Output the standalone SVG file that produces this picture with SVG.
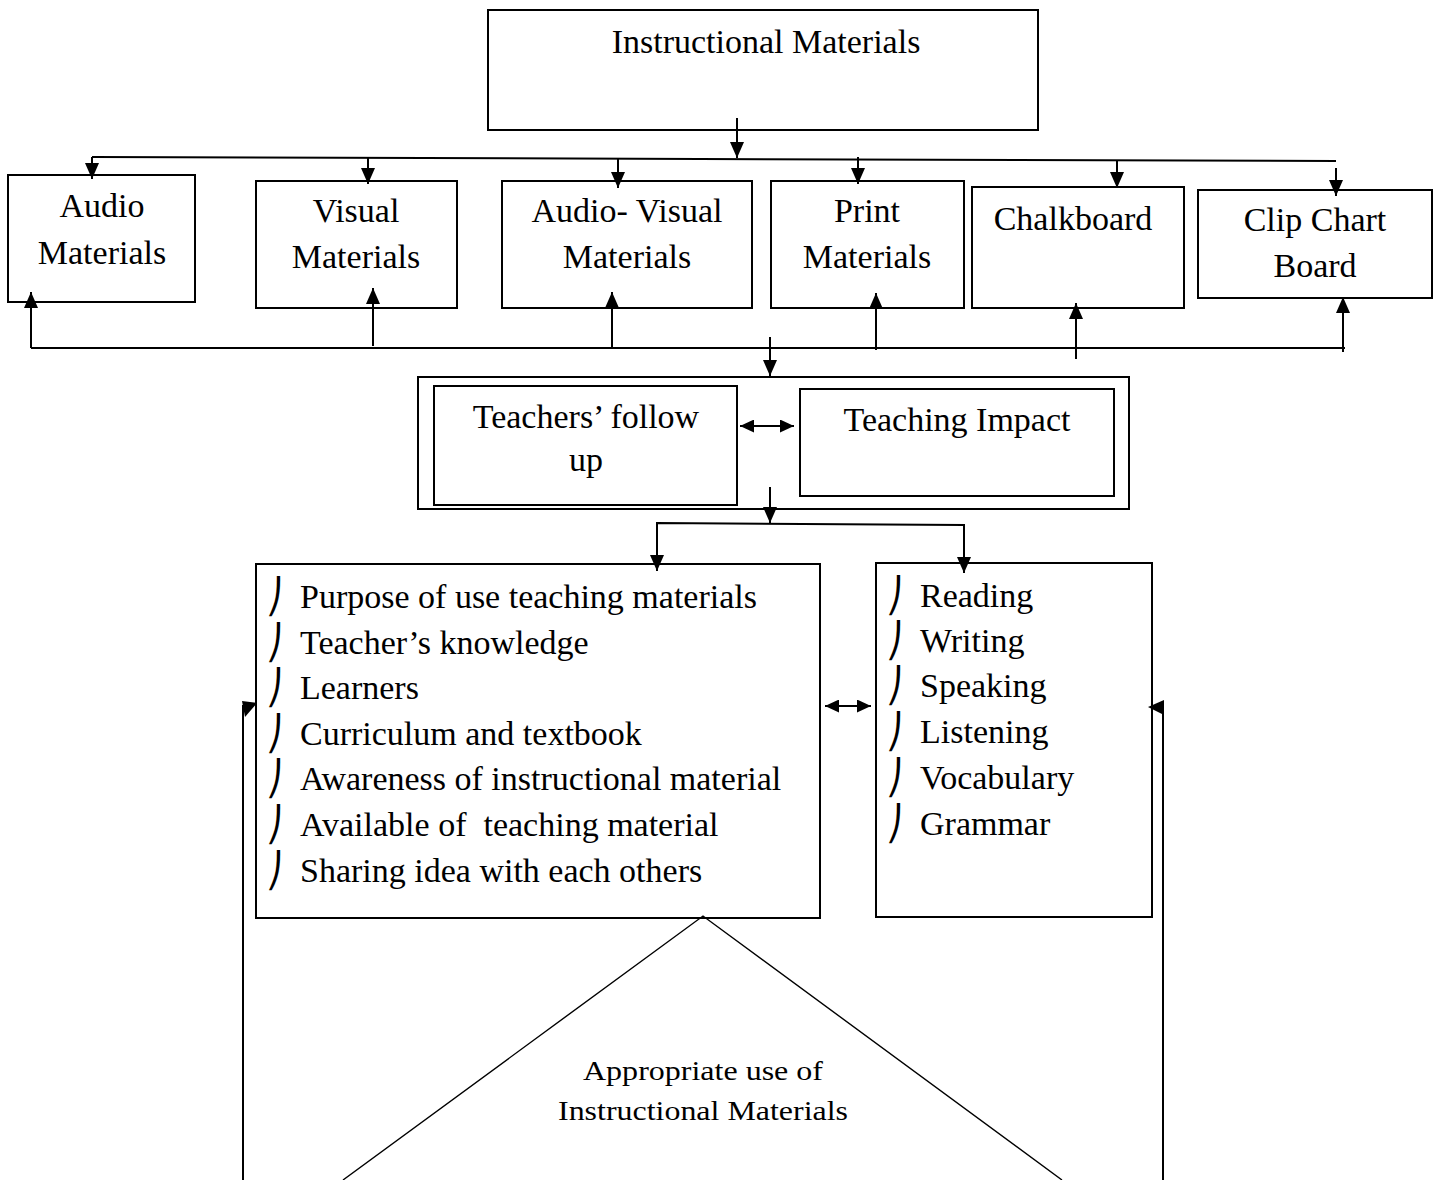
<svg xmlns="http://www.w3.org/2000/svg" width="1439" height="1180" viewBox="0 0 1439 1180">
<defs>
<style>
.box{fill:#fff;stroke:#000;stroke-width:2}
.ln{fill:none;stroke:#000;stroke-width:2}
.t{font-family:"Liberation Serif","Times New Roman",serif;font-size:34px;fill:#000}
.c{text-anchor:middle}
.b{font-family:"DejaVu Sans",sans-serif;font-size:34px;font-weight:200;fill:#000}
.tri{fill:none;stroke:#000;stroke-width:1.4}
</style>
<marker id="ah" markerUnits="userSpaceOnUse" markerWidth="16" markerHeight="14" viewBox="0 0 16 14" refX="16" refY="7" orient="auto">
<path d="M0,0 L16,7 L0,14 Z" fill="#000"/>
</marker>
<marker id="ah2" markerUnits="userSpaceOnUse" markerWidth="14" markerHeight="13" viewBox="0 0 14 13" refX="14" refY="6.5" orient="auto-start-reverse">
<path d="M0,0 L14,6.5 L0,13 Z" fill="#000"/>
</marker>
</defs>
<rect width="1439" height="1180" fill="#fff"/>

<g id="instructional-materials">
<rect class="box" x="488" y="10" width="550" height="120"/>
<text class="t c" x="766" y="53">Instructional Materials</text>
</g>

<g id="audio-materials">
<rect class="box" x="8" y="175" width="187" height="127"/>
<text class="t c" x="102" y="217">Audio</text>
<text class="t c" x="102" y="264">Materials</text>
</g>
<g id="visual-materials">
<rect class="box" x="256" y="181" width="201" height="127"/>
<text class="t c" x="356" y="222">Visual</text>
<text class="t c" x="356" y="268">Materials</text>
</g>
<g id="audio-visual-materials">
<rect class="box" x="502" y="181" width="250" height="127"/>
<text class="t c" x="627" y="222">Audio- Visual</text>
<text class="t c" x="627" y="268">Materials</text>
</g>
<g id="print-materials">
<rect class="box" x="771" y="181" width="193" height="127"/>
<text class="t c" x="867" y="222">Print</text>
<text class="t c" x="867" y="268">Materials</text>
</g>
<g id="chalkboard">
<rect class="box" x="972" y="187" width="212" height="121"/>
<text class="t c" x="1073" y="230">Chalkboard</text>
</g>
<g id="clip-chart-board">
<rect class="box" x="1198" y="190" width="234" height="108"/>
<text class="t c" x="1315" y="231">Clip Chart</text>
<text class="t c" x="1315" y="277">Board</text>
</g>

<g id="follow-up-impact">
<rect class="box" x="418" y="377" width="711" height="132"/>
<g id="teachers-follow-up">
<rect class="box" x="434" y="386" width="303" height="119"/>
<text class="t c" x="586" y="428">Teachers’ follow</text>
<text class="t c" x="586" y="471">up</text>
</g>
<g id="teaching-impact">
<rect class="box" x="800" y="389" width="314" height="107"/>
<text class="t c" x="957" y="431">Teaching Impact</text>
</g>
</g>

<g id="factors-list">
<rect class="box" x="256" y="564" width="564" height="354"/>
<text class="b" x="266" y="608">⎠</text>
<text class="b" x="266" y="654">⎠</text>
<text class="b" x="266" y="699">⎠</text>
<text class="b" x="266" y="745">⎠</text>
<text class="b" x="266" y="790">⎠</text>
<text class="b" x="266" y="836">⎠</text>
<text class="b" x="266" y="882">⎠</text>
<text class="t" x="300" y="608">Purpose of use teaching materials</text>
<text class="t" x="300" y="654">Teacher’s knowledge</text>
<text class="t" x="300" y="699">Learners</text>
<text class="t" x="300" y="745">Curriculum and textbook</text>
<text class="t" x="300" y="790">Awareness of instructional material</text>
<text class="t" x="300" y="836" xml:space="preserve">Available of  teaching material</text>
<text class="t" x="300" y="882">Sharing idea with each others</text>
</g>

<g id="skills-list">
<rect class="box" x="876" y="563" width="276" height="354"/>
<text class="b" x="886" y="607">⎠</text>
<text class="b" x="886" y="652">⎠</text>
<text class="b" x="886" y="697">⎠</text>
<text class="b" x="886" y="743">⎠</text>
<text class="b" x="886" y="789">⎠</text>
<text class="b" x="886" y="835">⎠</text>
<text class="t" x="920" y="607">Reading</text>
<text class="t" x="920" y="652">Writing</text>
<text class="t" x="920" y="697">Speaking</text>
<text class="t" x="920" y="743">Listening</text>
<text class="t" x="920" y="789">Vocabulary</text>
<text class="t" x="920" y="835">Grammar</text>
</g>

<g id="appropriate-use">
<polyline class="tri" points="343,1180 703,916 1062,1180"/>
<text class="t c" x="703" y="1080" style="font-size:27px" textLength="240" lengthAdjust="spacingAndGlyphs">Appropriate use of</text>
<text class="t c" x="703" y="1120" style="font-size:27px" textLength="290" lengthAdjust="spacingAndGlyphs">Instructional Materials</text>
</g>

<g id="connectors">
<line class="ln" x1="737" y1="118" x2="737" y2="158" marker-end="url(#ah)"/>
<line class="ln" x1="92" y1="157" x2="1336" y2="161"/>
<line class="ln" x1="92" y1="157" x2="92" y2="179" marker-end="url(#ah)"/>
<line class="ln" x1="368" y1="158" x2="368" y2="184" marker-end="url(#ah)"/>
<line class="ln" x1="618" y1="158" x2="618" y2="188" marker-end="url(#ah)"/>
<line class="ln" x1="858" y1="157" x2="858" y2="184" marker-end="url(#ah)"/>
<line class="ln" x1="1117" y1="160" x2="1117" y2="188" marker-end="url(#ah)"/>
<line class="ln" x1="1336" y1="168" x2="1336" y2="196" marker-end="url(#ah)"/>

<line class="ln" x1="31" y1="348" x2="1345" y2="348"/>
<line class="ln" x1="31" y1="348" x2="31" y2="292" marker-end="url(#ah)"/>
<line class="ln" x1="373" y1="346" x2="373" y2="288" marker-end="url(#ah)"/>
<line class="ln" x1="612" y1="348" x2="612" y2="292" marker-end="url(#ah)"/>
<line class="ln" x1="876" y1="350" x2="876" y2="293" marker-end="url(#ah)"/>
<line class="ln" x1="1076" y1="359" x2="1076" y2="303" marker-end="url(#ah)"/>
<line class="ln" x1="1343" y1="352" x2="1343" y2="297" marker-end="url(#ah)"/>

<line class="ln" x1="770" y1="337" x2="770" y2="376" marker-end="url(#ah)"/>
<line class="ln" x1="740" y1="426" x2="794" y2="426" marker-start="url(#ah2)" marker-end="url(#ah2)"/>
<line class="ln" x1="770" y1="487" x2="770" y2="523" marker-end="url(#ah)"/>
<polyline class="ln" points="657,571 657,523 964,525 964,573" marker-end="url(#ah)"/>
<line class="ln" x1="657" y1="524" x2="657" y2="571" marker-end="url(#ah)"/>
<line class="ln" x1="825" y1="706" x2="871" y2="706" marker-start="url(#ah2)" marker-end="url(#ah2)"/>

<line class="ln" x1="243" y1="1180" x2="243" y2="705"/>
<polygon points="242,701 257,703 245,717" fill="#000"/>
<line class="ln" x1="1163" y1="1180" x2="1163" y2="705"/>
<polygon points="1148,707 1164,700 1164,715" fill="#000"/>
</g>
</svg>
